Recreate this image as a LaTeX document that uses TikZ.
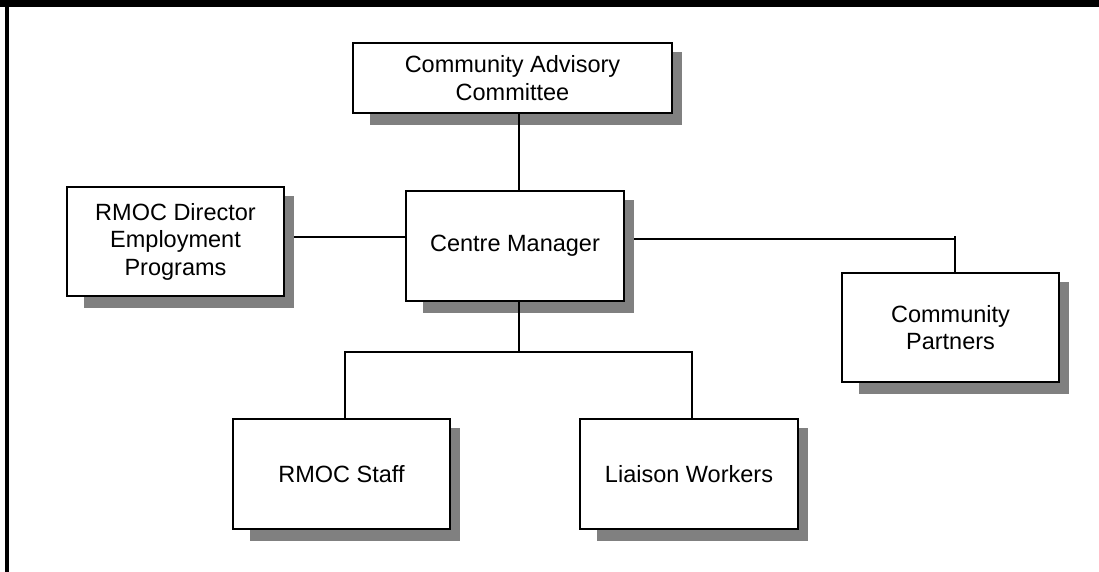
\documentclass[tikz,border=0pt]{standalone}
\usepackage{fontspec}
\setmainfont{Liberation Sans}
\usetikzlibrary{backgrounds}
\definecolor{shadowgray}{gray}{0.5}
\tikzset{
  orgbox/.style={draw=black, line width=2pt, fill=white, rectangle, inner sep=0pt,
    align=center, font=\fontsize{23.5}{27.5}\selectfont},
  link/.style={draw=black, line width=1.8pt},
  boxshadow/.style={fill=shadowgray}
}
\newcommand{\dropshadow}[1]{%
  \fill[boxshadow] ([xshift=18pt,yshift=-11pt]#1.south west) rectangle ([xshift=9pt,yshift=-10pt]#1.north east);}
\begin{document}
\begin{tikzpicture}[x=1pt,y=-1pt]
  \useasboundingbox (0,0) rectangle (1099,572);
  % frame
  \fill[black] (0,0) rectangle (1099,7);
  \fill[black] (5,0) rectangle (9,572);

  % boxes
  \node[orgbox, minimum width=319pt, minimum height=70pt] (cac) at (512.5,78) {Community Advisory\\Committee};
  \node[orgbox, minimum width=217pt, minimum height=109pt] (rd) at (175.5,241.5) {RMOC Director\\Employment\\Programs};
  \node[orgbox, minimum width=218pt, minimum height=110pt] (cm) at (515,246) {Centre Manager};
  \node[orgbox, minimum width=217pt, minimum height=109pt] (cp) at (950.5,327.5) {Community\\Partners};
  \node[orgbox, minimum width=217pt, minimum height=110pt] (rs) at (341.5,474) {RMOC Staff};
  \node[orgbox, minimum width=218pt, minimum height=110pt] (lw) at (689,474) {Liaison Workers};

  \begin{scope}[on background layer]
    \dropshadow{cac}
    \dropshadow{rd}
    \dropshadow{cm}
    \dropshadow{cp}
    \dropshadow{rs}
    \dropshadow{lw}
  \end{scope}

  % connectors
  \coordinate (v1) at (519,0);
  \coordinate (h1) at (0,237);
  \coordinate (h2) at (955,239);
  \coordinate (h3) at (519,352);
  \coordinate (vL) at (345,352);
  \coordinate (vR) at (692,352);

  \draw[link] (cac.south -| v1) -- (cm.north -| v1);
  \draw[link] ([xshift=9pt]rd.east |- h1) -- (cm.west |- h1);
  \draw[link] ([xshift=9pt]cm.east |- h2) -- (h2);
  \draw[link] ([yshift=3pt]h2) -- (h2 |- cp.north);
  \draw[link] (cm.south -| h3) -- (h3);
  \draw[link] (vL |- rs.north) -- (vL) -- (vR) -- (vR |- lw.north);
\end{tikzpicture}
\end{document}
